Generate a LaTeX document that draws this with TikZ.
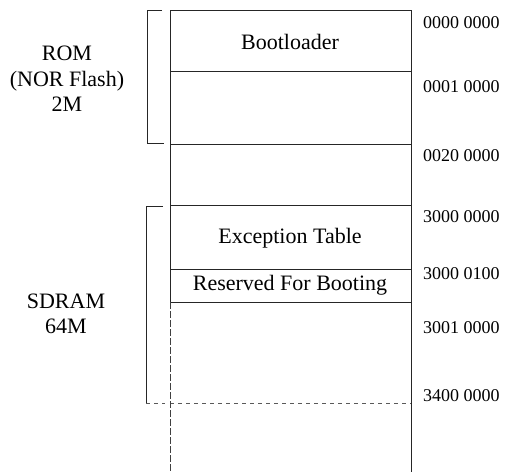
\documentclass[tikz,border=0pt]{standalone}
\usepackage{fontspec}
\setmainfont{Liberation Serif}
\begin{document}
\begin{tikzpicture}[x=1pt,y=-1pt,
  ln/.style={line width=0.9pt,black!85},
  dln/.style={line width=0.9pt,black!65,dash pattern=on 4pt off 4pt},
  eln/.style={line width=0.9pt,black!75,dash pattern=on 7pt off 2pt},
  blocktext/.style={font=\fontsize{22}{26}\selectfont,inner sep=0pt},
  sidetext/.style={font=\fontsize{22}{25.5}\selectfont,align=center,inner sep=0pt},
  addr/.style={font=\fontsize{18}{20}\selectfont,anchor=west,inner sep=0pt}]
\useasboundingbox (0,0) rectangle (506,472);
% box corners and separators
\coordinate (tl) at (170,10);
\coordinate (tr) at (411,10);
\coordinate (l1) at (170,71);  \coordinate (r1) at (411,71);
\coordinate (l2) at (170,144); \coordinate (r2) at (411,144);
\coordinate (l3) at (170,205); \coordinate (r3) at (411,205);
\coordinate (l4) at (170,269); \coordinate (r4) at (411,269);
\coordinate (l5) at (170,302); \coordinate (r5) at (411,302);
\coordinate (l6) at (170,403); \coordinate (r6) at (411,403);
\coordinate (bl) at (170,472); \coordinate (br) at (411,472);
\draw[ln] (tl) -- (tr);
\draw[ln] (l1) -- (r1);
\draw[ln] (l2) -- (r2);
\draw[ln] (l3) -- (r3);
\draw[ln] (l4) -- (r4);
\draw[ln] (l5) -- (r5);
\draw[dln] (l6) -- (r6);
\draw[ln] (tl) -- (l5);
\draw[eln] (l5) -- (bl);
\draw[ln] (tr) -- (br);
% block texts
\node[blocktext] (boot) at (290,42) {Bootloader};
\node[blocktext] (exc) at (290,238) {Exception Table};
\node[blocktext] (res) at (290,285) {Reserved For Booting};
% brackets
\coordinate (rt1) at (162,10);  \coordinate (rt0) at (147,10);
\coordinate (rb0) at (147,143); \coordinate (rb1) at (164,143);
\draw[ln] (rt1) -- (rt0) -- (rb0) -- (rb1);
\coordinate (st1) at (163,206); \coordinate (st0) at (146,206);
\coordinate (sb0) at (146,403); \coordinate (sb1) at (165,403);
\draw[ln] (st1) -- (st0) -- (sb0);
\draw[dln] (sb0) -- (sb1);
% side labels
\node[sidetext] (rom) at (67,79) {ROM\\(NOR Flash)\\2M};
\node[sidetext] (sdram) at (66,314) {SDRAM\\64M};
% addresses
\node[addr] (a0) at (423,23) {0000 0000};
\node[addr] (a1) at (423,87) {0001 0000};
\node[addr] (a2) at (423,156) {0020 0000};
\node[addr] (a3) at (423,217) {3000 0000};
\node[addr] (a4) at (423,274) {3000 0100};
\node[addr] (a5) at (423,328) {3001 0000};
\node[addr] (a6) at (423,396) {3400 0000};
\end{tikzpicture}
\end{document}
